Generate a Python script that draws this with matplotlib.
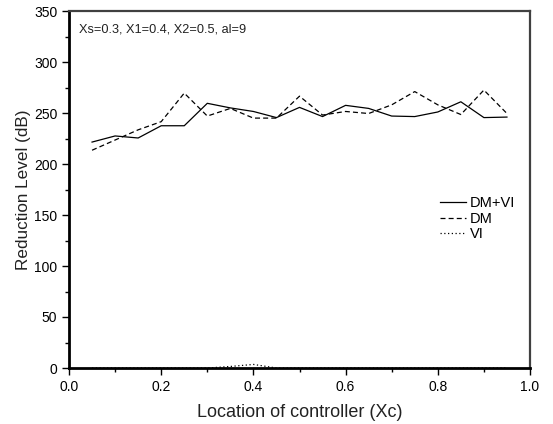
import matplotlib
matplotlib.use("Agg")
import matplotlib.pyplot as plt
from matplotlib.ticker import MultipleLocator, FormatStrFormatter

plt.rcParams['font.family'] = ['Liberation Sans', 'DejaVu Sans']

xc = [0.05, 0.10, 0.15, 0.20, 0.25, 0.30, 0.35, 0.40, 0.45, 0.50,
      0.55, 0.60, 0.65, 0.70, 0.75, 0.80, 0.85, 0.90, 0.95]
dm_vi = [221.5, 227.5, 225.5, 237.5, 237.5, 259.5, 255.0, 251.5, 245.5, 255.5,
         246.5, 257.5, 254.5, 247.0, 246.5, 251.0, 261.0, 245.5, 246.0]
dm = [213.5, 223.5, 233.5, 241.5, 269.5, 247.0, 254.5, 245.0, 245.0, 266.5,
      248.0, 251.5, 249.5, 258.0, 271.0, 258.0, 248.5, 272.5, 249.5]
vi = [0.0, 0.0, 0.0, 0.0, 0.0, 0.0, 1.5, 3.5, 0.0, 0.0,
      0.0, 0.0, 0.0, 0.0, 0.0, 0.0, 0.0, 0.0, 0.0]

fig = plt.figure(figsize=(5.53, 4.24), dpi=100)
ax = fig.add_axes([69/553, 1-368/424, 461/553, 357/424])

ax.plot(xc, dm_vi, color='black', lw=0.9, ls='-', label='DM+VI', zorder=2)
ax.plot(xc, dm, color='black', lw=0.9, ls=(0, (4, 2.5)), label='DM', zorder=2)
ax.plot(xc, vi, color='black', lw=0.9, ls=(0, (1, 2)), label='VI', zorder=1)

ax.set_xlim(0, 1.0)
ax.set_ylim(0, 350)
ax.xaxis.set_major_locator(MultipleLocator(0.2))
ax.xaxis.set_minor_locator(MultipleLocator(0.1))
ax.yaxis.set_major_locator(MultipleLocator(50))
ax.yaxis.set_minor_locator(MultipleLocator(25))
ax.tick_params(which='both', direction='out', top=False, right=False, width=1, labelsize=10, color='black')
ax.tick_params(which='major', length=5)
ax.tick_params(which='minor', length=3)
ax.xaxis.set_major_formatter(FormatStrFormatter('%.1f'))

for s in ['left', 'bottom']:
    ax.spines[s].set_linewidth(2.0)
    ax.spines[s].set_color('black')
for s in ['top', 'right']:
    ax.spines[s].set_linewidth(1.6)
    ax.spines[s].set_color('#404040')
for s in ax.spines.values():
    s.set_zorder(5)

ax.set_xlabel('Location of controller (Xc)', fontsize=13, labelpad=7, color='#222222')
ax.set_ylabel('Reduction Level (dB)', fontsize=12.3, labelpad=2, color='#222222')

ax.text(0.022, 0.948, 'Xs=0.3, X1=0.4, X2=0.5, al=9', transform=ax.transAxes,
        fontsize=9.2, va='center', ha='left', color='#222222')

leg = ax.legend(loc='center left', bbox_to_anchor=(0.805, 0.418), frameon=False,
                fontsize=10.5, handlelength=1.8, handletextpad=0.25,
                labelspacing=0.1, borderpad=0, borderaxespad=0)

fig.savefig('out.png', dpi=100)
